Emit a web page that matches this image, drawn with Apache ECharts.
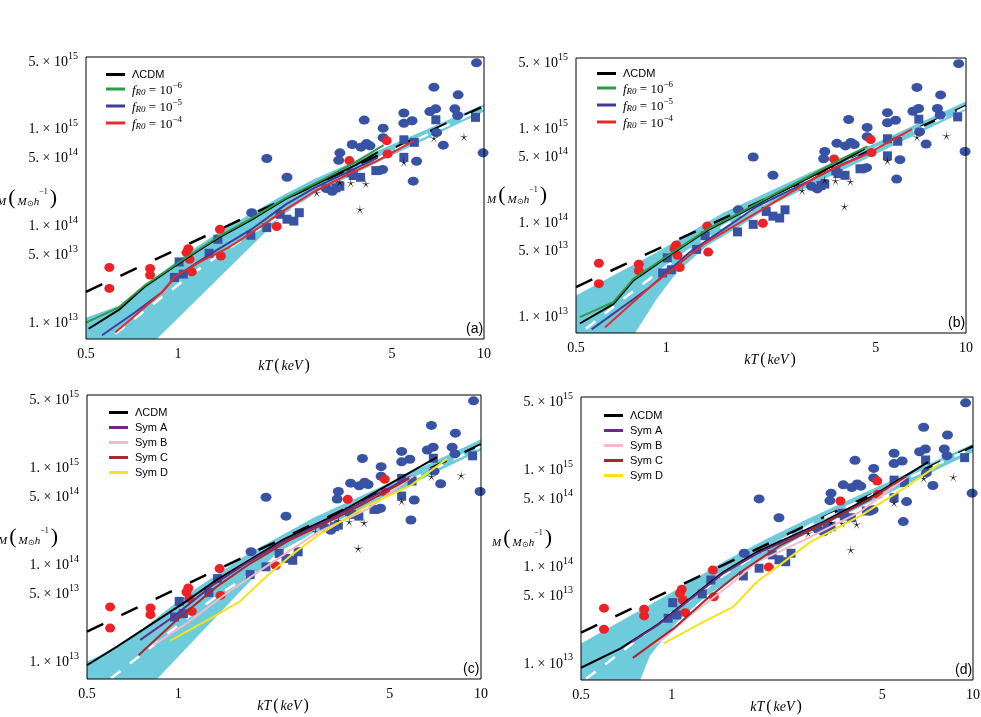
<!DOCTYPE html>
<html><head><meta charset="utf-8">
<script src="https://cdn.jsdelivr.net/npm/echarts@6/dist/echarts.min.js"></script>
<style>html,body{margin:0;padding:0;background:#fff}#c{width:981px;height:717px}</style>
</head><body><div id="c"></div><script>
// ---- axes ----
const X_MIN = 0.5, X_MAX = 10, Y_MIN = 6.5e12, Y_MAX = 5.4e15;
const xTicks = [0.5, 1, 5, 10];
const yTicks = [1e13, 5e13, 1e14, 5e14, 1e15, 5e15];
const panelLabels = ['(a)', '(b)', '(c)', '(d)'];

// ---- observational data (kT keV, M Msun/h) ----
const blueCircles = [[9.45,4.7e15],[6.86,2.63e15],[8.23,2.19e15],[6.65,1.47e15],[6.95,1.57e15],[8.03,1.57e15],[5.47,1.42e15],[5.82,1.18e15],[5.47,1.11e15],[4.06,1.2e15],[4.68,9.9e14],[4.68,7.9e14],[3.71,6.7e14],[3.96,6.3e14],[4.13,6.85e14],[4.24,6.5e14],[3.38,5.5e14],[3.35,4.6e14],[7.36,6.6e14],[6.02,4.5e14],[5.87,2.8e14],[9.93,5.5e14],[1.95,4.8e14],[2.27,3.07e14],[3.19,2.2e14],[4.55,3.6e14],[4.66,3.7e14],[7.0,8.9e14],[8.2,1.34e15],[1.74,1.32e14],[3.05,2.35e14]];
const blueSquares = [[9.38,1.28e15],[6.96,1.21e15],[5.47,7.5e14],[5.92,7.06e14],[5.47,4.94e14],[4.43,3.6e14],[3.95,3.07e14],[3.68,3.41e14],[3.38,2.48e14],[3.28,2.39e14],[2.49,1.32e14],[2.39,1.08e14],[2.27,1.13e14],[2.155,1.27e14],[1.95,9.25e13],[1.729,7.7e13],[1.349,7.0e13],[1.263,5.02e13],[1.008,4.08e13],[1.04,3.05e13],[0.973,2.82e13],[3.74,3.2e14]];
const redCircles = [[0.596,3.58e13],[0.596,2.17e13],[0.81,3.49e13],[0.81,2.98e13],[1.08,5.6e13],[1.065,5.1e13],[1.09,4.35e13],[1.109,3.22e13],[1.37,8.87e13],[1.38,4.7e13],[2.10,9.5e13],[3.63,4.57e14],[4.81,7.35e14],[4.84,5.36e14]];
const stars = [[2.84,2.12e14],[3.38,2.75e14],[3.67,2.69e14],[4.11,2.63e14],[3.93,1.43e14],[5.47,4.39e14],[6.86,7.83e14],[8.6,8.07e14]];
const powerLaw = [[0.5,2.0e13],[10,1.68e15]];

// ---- panel (a) ----
const a_bandUpper = [[0.5,1.08e13],[0.64,1.44e13],[1.06,4.9e13],[1.35,8.2e13],[1.74,1.3e14],[2.2,2.0e14],[2.77,2.91e14],[4.57,5.93e14],[10,1.75e15]];
const a_bandLower = [[10,1.47e15],[4.57,4.5e14],[2.77,2.04e14],[2.2,1.25e14],[0.852,Y_MIN],[0.5,Y_MIN]];
const a_white = [[0.623,7.35e12],[0.83,1.5e13],[1.109,3.05e13],[1.42,5.3e13],[1.87,9.25e13],[2.5,1.6e14],[3.55,3.3e14],[5.5,6.6e14],[10,1.6e15]];
const a_lcdm = [[0.51,8.3e12],[0.64,1.3e13],[0.78,2.28e13],[1.03,4.15e13],[1.35,7.2e13],[1.74,1.12e14],[2.24,1.82e14],[3.0,2.85e14],[3.8,4.1e14],[4.5,5.6e14]];
const a_f6 = [[0.5,9.6e12],[0.64,1.38e13],[0.78,2.35e13],[1.03,4.25e13],[1.35,7.4e13],[1.74,1.15e14],[2.24,1.87e14],[3.0,2.95e14],[3.8,4.4e14],[4.7,6.6e14]];
const a_f5 = [[0.564,7.1e12],[0.724,1.23e13],[0.885,1.98e13],[0.979,2.82e13],[1.134,3.87e13],[1.35,5.5e13],[1.74,8.9e13],[2.25,1.61e14],[2.8,2.4e14],[3.6,3.5e14],[4.5,4.9e14]];
const a_f4 = [[0.623,7.6e12],[0.724,1.14e13],[0.885,1.98e13],[0.979,2.9e13],[1.196,4.19e13],[1.46,5.75e13],[1.74,8.2e13],[2.25,1.43e14],[2.8,2.2e14],[3.6,3.3e14],[4.5,4.6e14],[5.9,7.3e14]];

// ---- panel (b) ----
const b_bandUpper = [[0.5,1.63e13],[0.93,4.68e13],[1.555,1.24e14],[2.17,2.01e14],[2.8,2.95e14],[4.57,5.93e14],[10,1.86e15]];
const b_bandLower = [[10,1.5e15],[4.57,4.5e14],[2.8,2.1e14],[2.28,1.51e14],[1.768,8.9e13],[1.368,5.5e13],[1.086,2.87e13],[0.93,1.5e13],[0.787,Y_MIN],[0.5,Y_MIN]];
const b_white = [[0.54,7.2e12],[0.72,1.5e13],[1.01,3.4e13],[1.555,8.9e13],[2.2,1.65e14],[3.3,3.2e14],[5.5,6.8e14],[10,1.62e15]];
const b_lcdm = [[0.515,8.2e12],[0.666,1.32e13],[0.777,2.35e13],[1.01,4.2e13],[1.37,8.0e13],[1.8,1.25e14],[2.3,1.9e14],[3.0,2.9e14],[3.8,4.2e14],[4.6,5.9e14]];
const b_f6 = [[0.515,9.6e12],[0.666,1.38e13],[0.777,2.44e13],[1.01,4.3e13],[1.37,8.2e13],[1.8,1.28e14],[2.3,1.95e14],[3.0,3.0e14],[3.8,4.5e14],[4.69,6.24e14]];
const b_f5 = [[0.564,7.1e12],[0.884,2.0e13],[1.2,4.7e13],[1.5,7.6e13],[2.01,1.44e14],[2.8,2.4e14],[3.6,3.6e14],[4.69,5.3e14]];
const b_f4 = [[0.625,7.5e12],[0.884,2.0e13],[1.333,5.7e13],[2.01,1.24e14],[3.36,3.27e14],[4.7,5.2e14],[6.6,9.5e14]];

// ---- panel (c) ----
const c_bandUpper = [[0.5,9.8e12],[0.65,1.45e13],[1.05,4.6e13],[1.35,7.8e13],[1.73,1.3e14],[2.23,2.0e14],[2.8,2.95e14],[4.6,6.0e14],[10,1.9e15]];
const c_bandLower = [[10,1.45e15],[4.6,4.5e14],[2.8,2.05e14],[2.12,1.29e14],[0.852,Y_MIN],[0.5,Y_MIN]];
const c_white = [[0.6,6.6e12],[0.83,1.45e13],[1.1,2.95e13],[1.42,5.2e13],[1.87,9.1e13],[2.5,1.6e14],[3.55,3.3e14],[5.5,6.6e14],[10,1.6e15]];
const c_lcdm = [[0.5,9.0e12],[0.628,1.4e13],[0.809,2.34e13],[1.042,3.92e13],[1.344,6.84e13],[1.731,1.1e14],[2.23,1.77e14],[3.26,3.08e14],[4.77,6.07e14],[7.16,1.24e15]];
const c_symA = [[0.75,1.64e13],[0.966,2.85e13],[1.3,6.0e13],[1.7,1.03e14],[2.2,1.65e14],[3.2,2.9e14],[4.6,5.3e14],[6.0,8.0e14]];
const c_symB = [[0.83,1.46e13],[1.069,2.44e13],[1.45,4.98e13],[1.96,9.4e13],[2.875,2.08e14],[4.2,3.6e14],[5.99,8.0e14]];
const c_symC = [[0.74,1.14e13],[0.991,2.64e13],[1.344,5.82e13],[1.73,1.0e14],[2.3,1.7e14],[3.3,2.9e14],[4.6,5.0e14],[5.8,7.5e14]];
const c_symD = [[0.942,1.61e13],[1.31,2.85e13],[1.6,4.08e13],[1.96,7.4e13],[2.34,1.19e14],[2.875,1.92e14],[3.7,3.08e14],[4.2,3.92e14],[5.84,6.3e14],[7.72,1.19e15]];

// ---- panel (d) ----
const d_bandUpper = [[0.5,1.55e13],[1.0,5.2e13],[1.5,1.1e14],[2.07,1.86e14],[2.8,2.95e14],[4.6,6.0e14],[10,1.77e15]];
const d_bandLower = [[10,1.45e15],[4.6,4.5e14],[2.8,2.1e14],[2.23,1.41e14],[1.73,8.45e13],[1.31,4.86e13],[1.04,2.57e13],[0.848,1.17e13],[0.786,Y_MIN],[0.5,Y_MIN]];
const d_white = [[0.52,6.7e12],[0.7,1.35e13],[1.0,3.2e13],[1.5,8.0e13],[2.2,1.65e14],[3.3,3.2e14],[5.5,6.8e14],[10,1.62e15]];
const d_lcdm = [[0.5,8.7e12],[0.675,1.37e13],[0.893,2.39e13],[1.15,4.49e13],[1.485,8.45e13],[1.914,1.36e14],[3.18,2.76e14],[4.66,5.2e14],[7.09,1.15e15]];
const d_symA = [[0.738,1.61e13],[0.9,2.4e13],[1.15,4.4e13],[1.485,8.2e13],[1.914,1.3e14],[3.18,2.7e14],[4.6,4.8e14]];
const d_symB = [[0.817,1.37e13],[0.94,1.74e13],[1.15,3.02e13],[1.56,6.2e13],[1.914,1.07e14],[2.8,1.86e14],[4.2,3.5e14],[6.0,8.0e14]];
const d_symC = [[0.743,1.1e13],[1.013,2.2e13],[1.31,4.49e13],[1.7,8.5e13],[2.3,1.6e14],[3.3,2.8e14],[4.6,4.9e14],[6.0,8.2e14]];
const d_symD = [[0.94,1.55e13],[1.27,2.57e13],[1.6,3.69e13],[1.914,6.67e13],[2.35,1.07e14],[2.88,1.72e14],[4.25,3.24e14],[5.86,6.08e14],[7.75,1.1e15]];

// ---- styling ----
const SERIF = 'Liberation Serif', SANS = 'Liberation Sans';
const CYAN = '#6ecbdc', BLUE = '#3953a4', RED = '#ec2227';
const C = {lcdm:'#000000', f6:'#2f9a45', f5:'#3a3f98', f4:'#e62a2c', A:'#6a2a84', B:'#f6b9c9', Cc:'#a4282c', D:'#f4e318'};
const grids = [
  {left:86, top:57, width:398, height:282},
  {left:576, top:58, width:390, height:275},
  {left:87, top:395, width:394, height:284},
  {left:581, top:397, width:392, height:283}
];

function starPath(){
  let s='';
  for(let k=0;k<10;k++){const r=k%2?0.13:1;const a=-Math.PI/2+k*Math.PI/5;s+=(k?'L':'M')+(r*Math.cos(a)).toFixed(3)+' '+(r*Math.sin(a)).toFixed(3);}
  return 'path://'+s+'Z';
}
const STAR = starPath();

function fmtY(v){
  const e = Math.floor(Math.log10(v)+1e-9);
  const m = Math.round(v/Math.pow(10,e));
  return '{m|'+m+'. × 10}{e|'+e+'}';
}
const legendNames = {
  'ΛCDM':'{s|ΛCDM}',
  'fR0_6':'{f|f}{sub|R0}{t| = 10}{sup|−6}',
  'fR0_5':'{f|f}{sub|R0}{t| = 10}{sup|−5}',
  'fR0_4':'{f|f}{sub|R0}{t| = 10}{sup|−4}',
  'Sym A':'{s|Sym A}','Sym B':'{s|Sym B}','Sym C':'{s|Sym C}','Sym D':'{s|Sym D}'
};

const xAxes = grids.map((g,i)=>({
  type:'log', logBase:10, gridIndex:i, min:X_MIN, max:X_MAX,
  axisLine:{show:false}, axisTick:{show:false}, splitLine:{show:false},
  axisLabel:{customValues:xTicks, margin:8, color:'#000', fontFamily:SERIF, fontSize:14, formatter:v=>String(v)},
  name:'{i|kT}{p|(}{i|keV}{p|)}', nameLocation:'middle', nameGap:19, nameMoveOverlap:false,
  nameTextStyle:{rich:{i:{fontFamily:SERIF,fontStyle:'italic',fontSize:14,color:'#000'},p:{fontFamily:SERIF,fontSize:16,color:'#000',padding:[0,2,0,2]}}}
}));
const yAxes = grids.map((g,i)=>({
  type:'log', logBase:10, gridIndex:i, min:Y_MIN, max:Y_MAX,
  axisLine:{show:false}, axisTick:{show:false}, splitLine:{show:false},
  axisLabel:{customValues:yTicks, margin:8, formatter:fmtY,
    rich:{m:{fontFamily:SERIF,fontSize:14,color:'#000',lineHeight:18,verticalAlign:'bottom'},
          e:{fontFamily:SERIF,fontSize:10,color:'#000',lineHeight:6,verticalAlign:'top'}}},
  name:'{i|M}{p|(}{i|M}{o|⊙}{i|h}{s|−1}{p|)}', nameLocation:'middle', nameRotate:0, nameGap:27, nameMoveOverlap:false,
  nameTextStyle:{rich:{
    i:{fontFamily:SERIF,fontStyle:'italic',fontSize:11,color:'#000',lineHeight:20,verticalAlign:'bottom'},
    p:{fontFamily:SERIF,fontSize:22,color:'#000',lineHeight:20,padding:[0,2,0,2]},
    o:{fontFamily:SERIF,fontSize:8,color:'#000',lineHeight:6,verticalAlign:'bottom'},
    s:{fontFamily:SERIF,fontSize:8,color:'#000',lineHeight:6,verticalAlign:'top'}}}
}));

function band(i, upper, lower){
  const poly = upper.concat(lower);
  return {type:'custom', xAxisIndex:i, yAxisIndex:i, silent:true, z:1, data:poly, encode:{x:0,y:1},
    renderItem:function(params, api){
      if(params.dataIndex!==0) return null;
      return {type:'polygon', shape:{points:poly.map(p=>api.coord(p))}, style:{fill:CYAN}};
    }};
}
function line(i, name, data, color, opt){
  return Object.assign({type:'line', name:name, xAxisIndex:i, yAxisIndex:i, data:data, symbol:'none', showSymbol:false,
    silent:true, lineStyle:{color:color, width:2}, itemStyle:{color:color}, z:5}, opt||{});
}
function scatter(i, data, symbol, size, color, z){
  return {type:'scatter', xAxisIndex:i, yAxisIndex:i, data:data, symbol:symbol, symbolSize:size, silent:true,
    itemStyle:{color:color, opacity:1}, z:z||3};
}
function common(i, upper, lower, white){
  return [
    band(i, upper, lower),
    line(i, 'powerlaw', powerLaw, '#000', {lineStyle:{color:'#000', width:2.5, type:[18,20]}, z:2}),
    line(i, 'white', white, '#fff', {lineStyle:{color:'#fff', width:2.5, type:[12,12]}, z:2}),
    scatter(i, blueCircles, 'circle', [11,9], BLUE),
    scatter(i, blueSquares, 'rect', 9, BLUE),
    scatter(i, redCircles, 'circle', [10,9], RED),
    scatter(i, stars, STAR, 10, '#000')
  ];
}
const series = [].concat(
  common(0, a_bandUpper, a_bandLower, a_white),
  [line(0,'ΛCDM',a_lcdm,C.lcdm), line(0,'fR0_6',a_f6,C.f6), line(0,'fR0_5',a_f5,C.f5), line(0,'fR0_4',a_f4,C.f4)],
  common(1, b_bandUpper, b_bandLower, b_white),
  [line(1,'ΛCDM',b_lcdm,C.lcdm), line(1,'fR0_6',b_f6,C.f6), line(1,'fR0_5',b_f5,C.f5), line(1,'fR0_4',b_f4,C.f4)],
  common(2, c_bandUpper, c_bandLower, c_white),
  [line(2,'ΛCDM',c_lcdm,C.lcdm), line(2,'Sym A',c_symA,C.A), line(2,'Sym B',c_symB,C.B), line(2,'Sym C',c_symC,C.Cc), line(2,'Sym D',c_symD,C.D)],
  common(3, d_bandUpper, d_bandLower, d_white),
  [line(3,'ΛCDM',d_lcdm,C.lcdm), line(3,'Sym A',d_symA,C.A), line(3,'Sym B',d_symB,C.B), line(3,'Sym C',d_symC,C.Cc), line(3,'Sym D',d_symD,C.D)]
);

const legRich = {
  s:{fontFamily:SANS,fontSize:11,color:'#000',lineHeight:15},
  f:{fontFamily:SERIF,fontStyle:'italic',fontSize:13,color:'#000',lineHeight:16,verticalAlign:'bottom'},
  t:{fontFamily:SERIF,fontSize:13,color:'#000',lineHeight:16,verticalAlign:'bottom'},
  sub:{fontFamily:SERIF,fontStyle:'italic',fontSize:9,color:'#000',lineHeight:6,verticalAlign:'bottom'},
  sup:{fontFamily:SERIF,fontSize:9,color:'#000',lineHeight:6,verticalAlign:'top'}
};
function legend(left, top, names, gap){
  return {left:left, top:top, orient:'vertical', icon:'rect', itemWidth:19, itemHeight:3, itemGap:gap,
    selectedMode:false, data:names, formatter:n=>legendNames[n],
    textStyle:{rich:legRich, padding:[0,0,0,2]}};
}
const fNames = ['ΛCDM','fR0_6','fR0_5','fR0_4'];
const sNames = ['ΛCDM','Sym A','Sym B','Sym C','Sym D'];

const option = {
  animation:false,
  backgroundColor:'#fff',
  grid: grids.map(g=>Object.assign({show:true, borderColor:'#000', borderWidth:1, backgroundColor:'transparent', z:10, outerBoundsMode:'none', containLabel:false}, g)),
  xAxis: xAxes, yAxis: yAxes,
  legend:[legend(101,64,fNames,1), legend(592,63,fNames,1), legend(104,402,sNames,4), legend(599,405,sNames,4)],
  graphic: grids.map((g,i)=>({type:'text', x:g.left+g.width-18, y:g.top+g.height-17, z:20,
    style:{text:panelLabels[i], font:'14px '+SANS, fill:'#000'}})),
  series: series
};
const chart = echarts.init(document.getElementById('c'), null, {renderer:'canvas'});
chart.setOption(option);
</script></body></html>
